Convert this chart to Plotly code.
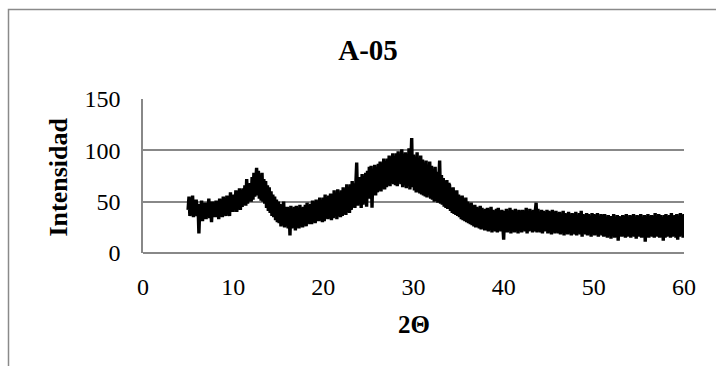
import numpy as np
import plotly.graph_objects as go

# Diffractogram of sample A-05: 2-theta from 5.0 to 60.0 deg in 0.1 deg steps
two_theta_start = 5.0
two_theta_step = 0.1

intensity = [
    42, 55, 36, 50, 38, 56, 35, 47, 40, 52,   # 5
    36, 48, 19, 45, 33, 51, 31, 44, 37, 49,   # 6
    33, 47, 38, 53, 34, 45, 30, 50, 36, 44,   # 7
    35, 51, 38, 46, 33, 53, 37, 48, 35, 55,   # 8
    38, 52, 36, 56, 40, 49, 36, 59, 41, 53,   # 9
    40, 57, 43, 61, 40, 55, 44, 63, 42, 59,   # 10
    45, 63, 47, 66, 46, 72, 48, 64, 50, 68,   # 11
    50, 74, 52, 78, 55, 72, 83, 56, 80, 53,   # 12
    75, 51, 78, 50, 72, 48, 70, 44, 66, 41,   # 13
    64, 39, 60, 36, 57, 35, 55, 32, 52, 30,   # 14
    50, 29, 48, 26, 47, 29, 50, 25, 45, 27,   # 15
    45, 24, 44, 17, 46, 24, 43, 25, 45, 22,   # 16
    46, 25, 43, 24, 47, 26, 44, 25, 45, 27,   # 17
    47, 26, 49, 29, 45, 28, 48, 28, 51, 30,   # 18
    49, 29, 52, 31, 48, 31, 54, 32, 50, 30,   # 19
    54, 31, 57, 34, 52, 33, 56, 34, 58, 32,   # 20
    57, 34, 61, 36, 55, 33, 62, 36, 58, 35,   # 21
    61, 36, 64, 38, 60, 37, 67, 40, 63, 39,   # 22
    67, 42, 70, 45, 68, 44, 72, 88, 46, 71,   # 23
    48, 74, 44, 77, 47, 75, 52, 78, 45, 80,   # 24
    53, 84, 55, 85, 44, 80, 57, 86, 56, 84,   # 25
    59, 87, 61, 89, 60, 85, 63, 92, 62, 88,   # 26
    64, 92, 66, 95, 65, 91, 68, 97, 67, 93,   # 27
    66, 97, 65, 99, 69, 94, 67, 101, 64, 96,  # 28
    66, 98, 63, 95, 65, 102, 62, 97, 112, 64, # 29
    96, 61, 94, 59, 98, 60, 92, 58, 95, 57,   # 30
    91, 56, 88, 55, 90, 54, 86, 57, 89, 53,   # 31
    85, 52, 82, 50, 84, 51, 79, 49, 81, 90,   # 32
    48, 76, 47, 73, 45, 70, 44, 71, 43, 68,   # 33
    66, 41, 63, 39, 64, 38, 60, 37, 61, 36,   # 34
    57, 35, 55, 33, 56, 32, 52, 31, 54, 30,   # 35
    50, 29, 48, 28, 49, 27, 46, 26, 47, 25,   # 36
    45, 25, 43, 24, 46, 23, 44, 24, 42, 22,   # 37
    43, 22, 44, 21, 41, 23, 45, 20, 42, 22,   # 38
    41, 21, 43, 20, 44, 22, 40, 21, 42, 20,   # 39
    13, 41, 21, 43, 20, 40, 22, 44, 19, 42,   # 40
    21, 41, 20, 43, 22, 40, 19, 42, 23, 41,   # 41
    20, 42, 22, 40, 21, 44, 19, 41, 21, 43,   # 42
    22, 41, 20, 42, 21, 40, 49, 20, 43, 21,   # 43
    40, 20, 42, 19, 41, 21, 39, 22, 42, 19,   # 44
    41, 20, 40, 18, 42, 21, 39, 19, 41, 20,   # 45
    39, 19, 40, 18, 38, 20, 41, 17, 39, 19,   # 46
    38, 18, 40, 20, 37, 17, 39, 19, 38, 18,   # 47
    40, 17, 37, 19, 39, 18, 41, 16, 38, 19,   # 48
    37, 18, 39, 17, 38, 19, 36, 16, 39, 18,   # 49
    38, 17, 37, 18, 39, 16, 36, 19, 38, 17,   # 50
    37, 16, 38, 17, 35, 15, 37, 18, 36, 14,   # 51
    36, 17, 38, 15, 35, 16, 37, 12, 36, 17,   # 52
    35, 16, 37, 17, 36, 15, 38, 16, 35, 17,   # 53
    37, 15, 36, 17, 38, 16, 35, 14, 37, 17,   # 54
    36, 16, 38, 15, 35, 17, 37, 11, 36, 16,   # 55
    38, 15, 36, 17, 37, 16, 35, 15, 39, 17,   # 56
    36, 16, 38, 15, 37, 17, 35, 12, 37, 15,   # 57
    38, 16, 36, 17, 37, 15, 39, 16, 36, 17,   # 58
    37, 15, 38, 13, 36, 16, 39, 17, 37, 15,   # 59
    38,                                       # 60
]

two_theta = np.round(two_theta_start + two_theta_step * np.arange(len(intensity)), 1)

x_ticks = [0, 10, 20, 30, 40, 50, 60]
y_ticks = [0, 50, 100, 150]

FONT = "Liberation Serif"
GRID = "#888888"

W, H = 716, 366
L, R, T, B = 143, 32, 99, 113
pw, ph = W - L - R, H - T - B


def px(xp):
    return (xp - L) / pw


def py(yp):
    return (H - B - yp) / ph


fig = go.Figure()
fig.add_trace(go.Scatter(
    x=two_theta, y=intensity, mode="lines",
    line=dict(color="black", width=3.4),
    showlegend=False, hoverinfo="skip",
))

fig.update_layout(
    width=W, height=H,
    margin=dict(l=L, r=R, t=T, b=B),
    paper_bgcolor="white", plot_bgcolor="white",
    font=dict(family=FONT, color="black", size=24),
    title=dict(text="<b>A-05</b>", x=368 / W, xanchor="center",
               y=1 - 50 / H, yanchor="middle", xref="container", yref="container",
               font=dict(family=FONT, size=29, color="black")),
    xaxis=dict(range=[0, 60], tickvals=x_ticks, showgrid=False,
               showline=False, zeroline=False, ticks="",
               ticklabelstandoff=17, tickfont=dict(family=FONT, size=24)),
    yaxis=dict(range=[0, 150], tickvals=y_ticks, showgrid=True,
               gridcolor=GRID, gridwidth=1.5, showline=True, linecolor=GRID,
               linewidth=1.5, zeroline=True, zerolinecolor=GRID, zerolinewidth=1.5,
               ticks="", ticklabelstandoff=16, tickfont=dict(family=FONT, size=24)),
)

# chart frame (left and top edges)
fig.add_shape(type="path", xref="paper", yref="paper",
              path=f"M {px(8.5)} {py(372)} L {px(8.5)} {py(9.5)} L {px(720)} {py(9.5)}",
              line=dict(color="#8a8a8a", width=1.5))

fig.add_annotation(text="<b>Intensidad</b>", xref="paper", yref="paper",
                   x=px(57.5), y=py(177), xanchor="center", yanchor="middle",
                   textangle=-90, showarrow=False,
                   font=dict(family=FONT, size=26, color="black"))
fig.add_annotation(text="<b>2Θ</b>", xref="paper", yref="paper",
                   x=px(413.5), y=py(324), xanchor="center", yanchor="middle",
                   showarrow=False, font=dict(family=FONT, size=25, color="black"))

fig.write_html("out.html")
